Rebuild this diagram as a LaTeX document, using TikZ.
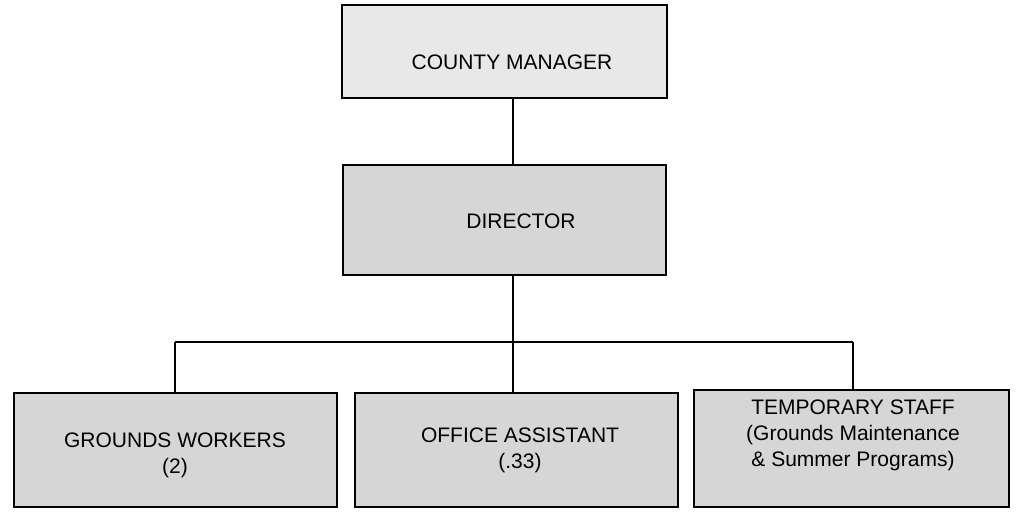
\documentclass[tikz,border=0pt]{standalone}
\usepackage{fontspec}
\setmainfont{Liberation Sans}
\begin{document}
\begin{tikzpicture}[x=1pt,y=-1pt,
  box/.style={draw=black, line width=1.8pt, fill=black!16, inner sep=0pt, outer sep=0pt},
  lightbox/.style={box, fill=black!9},
  txt/.style={font=\fontsize{21}{26}\selectfont, align=center, inner sep=0pt},
  wire/.style={line width=1.5pt}]
\useasboundingbox (0,0) rectangle (1017,513);
\node[lightbox, minimum width=325pt, minimum height=93pt] (cm) at (504.5,51.5) {};
\node[box, minimum width=323pt, minimum height=110pt] (dir) at (504.5,220) {};
\node[box, minimum width=323pt, minimum height=114pt] (gw) at (175.5,450) {};
\node[box, minimum width=323pt, minimum height=114pt] (oa) at (516.5,450) {};
\node[box, minimum width=315pt, minimum height=117pt] (ts) at (851.5,448.5) {};
\node[txt] (cmt) at (512,62) {COUNTY MANAGER};
\node[txt] (dirt) at (521,221) {DIRECTOR};
\node[txt] (gwt) at (175,455) {GROUNDS WORKERS\\(2)};
\node[txt] (oat) at (520,450) {OFFICE ASSISTANT\\(.33)};
\node[txt] (tst) at (853,435) {TEMPORARY STAFF\\(Grounds Maintenance\\\& Summer Programs)};
\coordinate (j) at (513,342);
\coordinate (jl) at (175,342);
\coordinate (jr) at (853,342);
\draw[wire] (cm.south -| j) -- (dir.north -| j);
\draw[wire] (dir.south -| j) -- (j);
\draw[wire] (jl) -- (jr);
\draw[wire] (jl) -- (gw.north -| jl);
\draw[wire] (j) -- (oa.north -| j);
\draw[wire] (jr) -- (ts.north -| jr);
\end{tikzpicture}
\end{document}
